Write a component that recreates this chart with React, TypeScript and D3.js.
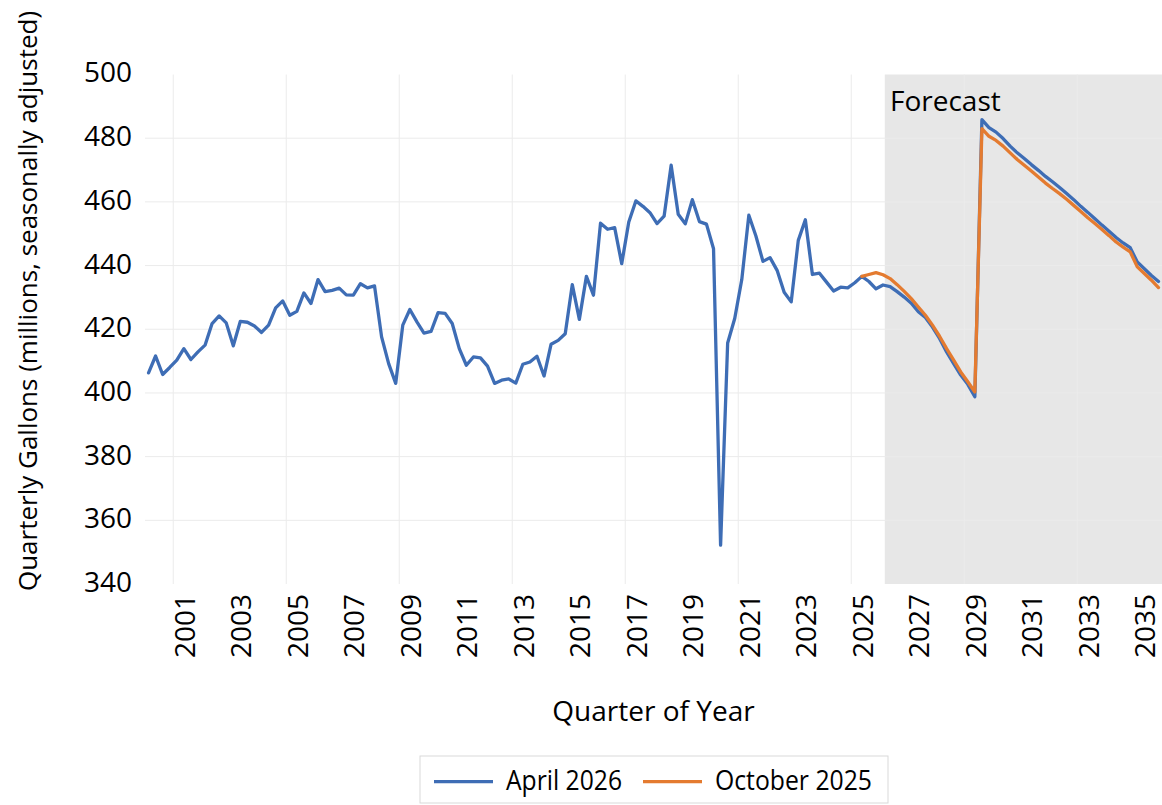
import React from "react";
import * as d3 from "d3";

const years = [2000, 2001, 2002, 2003, 2004, 2005, 2006, 2007, 2008, 2009, 2010, 2011, 2012, 2013, 2014, 2015, 2016, 2017, 2018, 2019, 2020, 2021, 2022, 2023, 2024, 2025, 2026, 2027, 2028, 2029, 2030, 2031, 2032, 2033, 2034, 2035];
const quarterNames = ["Q1", "Q2", "Q3", "Q4"];
const yearTickLabels = ["2001", "2003", "2005", "2007", "2009", "2011", "2013", "2015", "2017", "2019", "2021", "2023", "2025", "2027", "2029", "2031", "2033", "2035"];
const gridYears = ["2001", "2005", "2009", "2013", "2017", "2021", "2025", "2029", "2033"];
const yTicks = [340, 360, 380, 400, 420, 440, 460, 480, 500];
const yGridTicks = [360, 380, 400, 420, 440, 460, 480];

// April 2026 series, 2000Q1 .. 2035Q4
const april2026 = [
  406.3, 411.6, 405.8, 408.0, 410.3, 413.9, 410.5, 412.9,
  415.0, 421.8, 424.2, 422.0, 414.8, 422.5, 422.2, 421.0,
  419.0, 421.3, 426.7, 428.9, 424.4, 425.6, 431.4, 428.1,
  435.6, 431.8, 432.2, 432.9, 430.8, 430.7, 434.3, 433.0,
  433.6, 417.6, 409.2, 403.0, 421.3, 426.2, 422.3, 418.8,
  419.3, 425.2, 425.0, 421.8, 413.9, 408.7, 411.3, 411.0,
  408.4, 403.0, 404.0, 404.4, 403.1, 409.0, 409.7, 411.5,
  405.3, 415.3, 416.5, 418.6, 434.0, 423.1, 436.6, 430.7,
  453.3, 451.4, 451.9, 440.6, 453.7, 460.3, 458.6, 456.6,
  453.2, 455.5, 471.5, 456.1, 453.1, 460.7, 453.8, 453.0,
  445.3, 352.2, 415.7, 423.4, 435.6, 455.8, 449.3, 441.3,
  442.5, 438.5, 431.6, 428.6, 447.9, 454.4, 437.2, 437.6,
  434.8, 432.0, 433.2, 433.0, 434.6, 436.6, 435.0, 432.7,
  433.9, 433.4, 431.8, 430.1, 428.2, 425.5, 423.7, 420.7,
  417.1, 412.9, 409.2, 405.6, 402.7, 398.8, 485.8, 483.3,
  481.9, 479.9, 477.5, 475.4, 473.6, 471.7, 469.9, 468.0,
  466.3, 464.5, 462.6, 460.7, 458.6, 456.7, 454.7, 452.7,
  450.8, 448.8, 447.1, 445.6, 441.1, 439.0, 436.9, 435.0,
];

// October 2025 series, starting 2025Q2
const october2025Start = "2025Q2";
const october2025 = [
  436.6, 437.2, 437.8, 437.1, 435.9, 434.0, 431.9, 429.6,
  427.0, 424.4, 421.3, 417.8, 413.9, 410.3, 406.6, 403.5,
  400.3, 483.0, 480.6, 479.3, 477.5, 475.4, 473.3, 471.5,
  469.7, 467.8, 465.9, 464.2, 462.6, 460.8, 458.9, 457.0,
  455.0, 453.2, 451.3, 449.4, 447.4, 445.8, 444.3, 439.6,
  437.5, 435.4, 433.1,
];
const forecastStart = "2026Q2";

const seriesNames = ["April 2026", "October 2025"];
const seriesColors = ["#3E6DB5", "#E47B30"];

const W = 1162;
const H = 805;
const plot = { left: 145, right: 1162, top: 74.5, bottom: 584 };
const FONT = "'Open Sans', sans-serif";

export default function App() {
  const categories = years.flatMap((y) => quarterNames.map((q) => `${y}${q}`));
  const x = d3.scaleBand().domain(categories).range([plot.left, plot.right]).paddingInner(0).paddingOuter(0);
  const bw = x.bandwidth();
  const cx = (c: string) => (x(c) as number) + bw / 2;
  const y = d3.scaleLinear().domain([340, 500]).range([plot.bottom, plot.top]);

  const aprilPts = april2026.map((v, i) => ({ c: categories[i], v }));
  const octStartIdx = categories.indexOf(october2025Start);
  const octPts = october2025.map((v, i) => ({ c: categories[octStartIdx + i], v }));

  const line = d3
    .line<{ c: string; v: number }>()
    .x((d) => cx(d.c))
    .y((d) => y(d.v));

  const fIdx = categories.indexOf(forecastStart);
  const shadeX = ((x(categories[fIdx]) as number) + cx(categories[fIdx - 1])) / 2;

  return (
    <svg width={W} height={H} style={{ position: "absolute", left: 0, top: 0, background: "#fff" }} fontFamily={FONT}>
      <rect x={0} y={0} width={W} height={H} fill="#fff" />
      {/* forecast shading */}
      <rect x={shadeX} y={plot.top} width={plot.right - shadeX} height={plot.bottom - plot.top} fill="#e7e7e7" />
      {/* gridlines */}
      {yGridTicks.map((t) => (
        <line key={"gy" + t} x1={plot.left} x2={plot.right} y1={y(t)} y2={y(t)} stroke="#ebebeb" strokeWidth={1} />
      ))}
      {gridYears.map((yr) => {
        const gx = x(`${yr}Q1`) as number;
        return <line key={"gx" + yr} x1={gx} x2={gx} y1={plot.top} y2={plot.bottom} stroke="#ebebeb" strokeWidth={1} />;
      })}
      {/* lines */}
      <path d={line(aprilPts) || ""} fill="none" stroke={seriesColors[0]} strokeWidth={3.3} strokeLinejoin="round" strokeLinecap="round" />
      <path d={line(octPts) || ""} fill="none" stroke={seriesColors[1]} strokeWidth={3.3} strokeLinejoin="round" strokeLinecap="round" />
      <text x={890} y={111} fontSize={28} fill="#000">Forecast</text>
      {/* y ticks */}
      {yTicks.map((t) => (
        <text key={"yt" + t} x={132} y={y(t) - 2} dy="0.357em" textAnchor="end" fontSize={28} fill="#000">
          {t}
        </text>
      ))}
      {/* x ticks */}
      {yearTickLabels.map((yr) => {
        const xc = cx(`${yr}Q2`) + 1;
        return (
          <text key={"xt" + yr} transform={`translate(${xc},594) rotate(-90)`} dy="0.357em" textAnchor="end" fontSize={28} fill="#000">
            {yr}
          </text>
        );
      })}
      {/* axis titles */}
      <text x={(plot.left + plot.right) / 2} y={721} textAnchor="middle" fontSize={28} fill="#000">
        Quarter of Year
      </text>
      <text transform="translate(37,301) rotate(-90)" textAnchor="middle" fontSize={26} fill="#000">
        Quarterly Gallons (millions, seasonally adjusted)
      </text>
      {/* legend */}
      <rect x={420} y={756} width={468} height={47} fill="#fff" stroke="#d9d9d9" strokeWidth={1} />
      <line x1={434} x2={493} y1={781.7} y2={781.7} stroke={seriesColors[0]} strokeWidth={3.3} />
      <text x={506} y={790} fontSize={27} textLength={116} lengthAdjust="spacingAndGlyphs" fill="#000">
        {seriesNames[0]}
      </text>
      <line x1={643} x2={702} y1={781.7} y2={781.7} stroke={seriesColors[1]} strokeWidth={3.3} />
      <text x={715} y={790} fontSize={27} textLength={157} lengthAdjust="spacingAndGlyphs" fill="#000">
        {seriesNames[1]}
      </text>
    </svg>
  );
}
